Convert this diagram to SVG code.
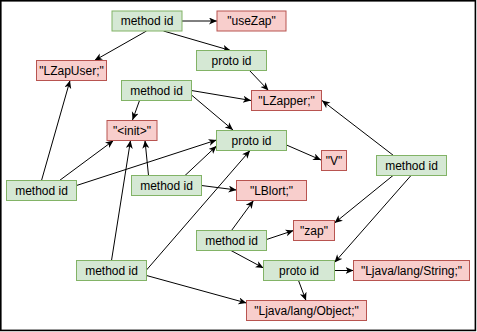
<svg xmlns="http://www.w3.org/2000/svg" width="477" height="332" viewBox="0 0 477 332">
  <style>
    .frame { fill: #ffffff; stroke: #000000; stroke-width: 1.6; }
    .idnode rect { fill: #d5e8d4; stroke: #82b366; stroke-width: 1; }
    .strnode rect { fill: #f8cecc; stroke: #b85450; stroke-width: 1; }
    text { font-family: "Liberation Sans", Arial, Helvetica, sans-serif; font-size: 12px; fill: #000000; text-anchor: middle; }
    #connectors line { stroke: #000000; stroke-width: 1; marker-end: url(#arrow); }
  </style>
  <defs>
    <marker id="arrow" markerUnits="userSpaceOnUse" markerWidth="9" markerHeight="8" refX="8" refY="3.5" orient="auto">
      <path d="M0,0 L8,3.5 L0,7 L2.2,3.5 Z" fill="#000000"/>
    </marker>
  </defs>

  <!-- outer frame -->
  <rect class="frame" x="0.8" y="0.8" width="474.6" height="329.6"/>

  <!-- connectors: method/proto ids pointing at their string and proto entries -->
  <g id="connectors">
    <line x1="182" y1="21" x2="217" y2="21"/>
    <line x1="146.5" y1="31" x2="94.5" y2="60.5"/>
    <line x1="163.5" y1="31" x2="230.5" y2="50.5"/>
    <line x1="249.5" y1="70.5" x2="268.5" y2="90.5"/>
    <line x1="191.5" y1="90.5" x2="251" y2="100.5"/>
    <line x1="191.5" y1="95" x2="233" y2="130"/>
    <line x1="139.5" y1="100.5" x2="132.5" y2="120"/>
    <line x1="286.5" y1="145" x2="321" y2="160"/>
    <line x1="393.5" y1="155.5" x2="322" y2="100.5"/>
    <line x1="393" y1="175.5" x2="334.5" y2="223"/>
    <line x1="411" y1="175.5" x2="334.5" y2="262.5"/>
    <line x1="266.5" y1="239.5" x2="293.5" y2="230.5"/>
    <line x1="231.5" y1="230.5" x2="253.5" y2="200.5"/>
    <line x1="231" y1="250.5" x2="263.5" y2="268"/>
    <line x1="334.5" y1="270.5" x2="353.5" y2="270.5"/>
    <line x1="298.5" y1="280.5" x2="306" y2="300.5"/>
    <line x1="146.5" y1="275.5" x2="246.5" y2="303"/>
    <line x1="146.5" y1="270" x2="250" y2="150.5"/>
    <line x1="111.5" y1="260.5" x2="130.5" y2="140.5"/>
    <line x1="148.5" y1="175.5" x2="145" y2="140.5"/>
    <line x1="185" y1="175.5" x2="216.5" y2="146"/>
    <line x1="201.5" y1="185.5" x2="236.5" y2="190"/>
    <line x1="59.5" y1="180.5" x2="113.5" y2="140.5"/>
    <line x1="76.5" y1="185.5" x2="216.5" y2="140"/>
    <line x1="41.5" y1="180.5" x2="70" y2="80.5"/>
  </g>

  <!-- method ids -->
  <g id="method-usezap" class="idnode">
    <rect x="112" y="11" width="70" height="20"/>
    <text x="147" y="25.2">method id</text>
  </g>
  <g id="method-zapper-init" class="idnode">
    <rect x="121.5" y="80.5" width="70" height="20"/>
    <text x="156.5" y="94.7">method id</text>
  </g>
  <g id="method-zapuser-init" class="idnode">
    <rect x="6.5" y="180.5" width="70" height="20"/>
    <text x="41.5" y="194.7">method id</text>
  </g>
  <g id="method-blort-init" class="idnode">
    <rect x="131.5" y="175.5" width="70" height="20"/>
    <text x="166.5" y="189.7">method id</text>
  </g>
  <g id="method-object-init" class="idnode">
    <rect x="76.5" y="260.5" width="70" height="20"/>
    <text x="111.5" y="274.7">method id</text>
  </g>
  <g id="method-blort-zap" class="idnode">
    <rect x="196.5" y="230.5" width="70" height="20"/>
    <text x="231.5" y="244.7">method id</text>
  </g>
  <g id="method-zapper-zap" class="idnode">
    <rect x="376.5" y="155.5" width="70" height="20"/>
    <text x="411.5" y="169.7">method id</text>
  </g>

  <!-- proto ids -->
  <g id="proto-zapper" class="idnode">
    <rect x="196.5" y="50.5" width="70" height="20"/>
    <text x="231.5" y="64.7">proto id</text>
  </g>
  <g id="proto-void" class="idnode">
    <rect x="216.5" y="130.5" width="70" height="20"/>
    <text x="251.5" y="144.7">proto id</text>
  </g>
  <g id="proto-object-string" class="idnode">
    <rect x="263.5" y="260.5" width="71" height="20"/>
    <text x="299" y="274.7">proto id</text>
  </g>

  <!-- string entries -->
  <g id="str-usezap" class="strnode">
    <rect x="217" y="11" width="69" height="20"/>
    <text x="251.5" y="25.2">"useZap"</text>
  </g>
  <g id="str-lzapuser" class="strnode">
    <rect x="36.5" y="60.5" width="70" height="20"/>
    <text x="71.5" y="74.7">"LZapUser;"</text>
  </g>
  <g id="str-lzapper" class="strnode">
    <rect x="251.5" y="90.5" width="70" height="20"/>
    <text x="286.5" y="104.7">"LZapper;"</text>
  </g>
  <g id="str-init" class="strnode">
    <rect x="107" y="120.5" width="50" height="20"/>
    <text x="132" y="134.7">"&lt;init&gt;"</text>
  </g>
  <g id="str-v" class="strnode">
    <rect x="321.5" y="150.5" width="25" height="20"/>
    <text x="334" y="164.7">"V"</text>
  </g>
  <g id="str-lblort" class="strnode">
    <rect x="236.5" y="180.5" width="70" height="20"/>
    <text x="271.5" y="194.7">"LBlort;"</text>
  </g>
  <g id="str-zap" class="strnode">
    <rect x="293.5" y="220.5" width="41" height="20"/>
    <text x="314" y="234.7">"zap"</text>
  </g>
  <g id="str-string" class="strnode">
    <rect x="353.5" y="260.5" width="116" height="20"/>
    <text x="411.5" y="274.7">"Ljava/lang/String;"</text>
  </g>
  <g id="str-object" class="strnode">
    <rect x="246.5" y="300.5" width="120" height="20"/>
    <text x="306.5" y="314.7">"Ljava/lang/Object;"</text>
  </g>
</svg>
